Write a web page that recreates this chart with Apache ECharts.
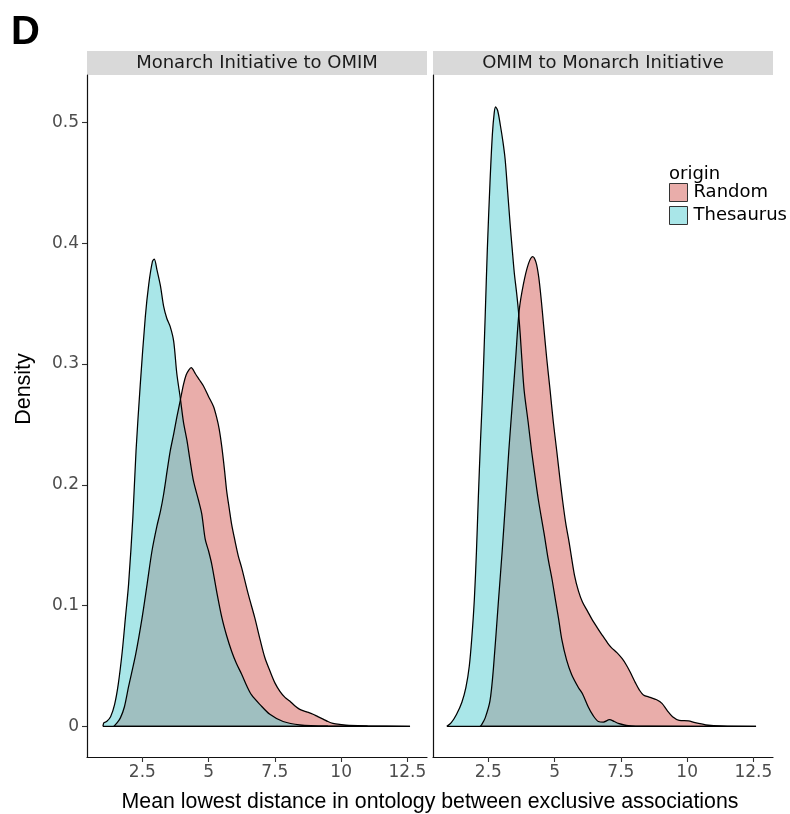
<!DOCTYPE html>
<html>
<head>
<meta charset="utf-8">
<script src="https://cdn.jsdelivr.net/npm/echarts@6/dist/echarts.min.js"></script>
<style>
html,body{margin:0;padding:0;background:#fff;}
#chart{width:790px;height:814px;}
</style>
</head>
<body>
<div id="chart"></div>
<script>
// ---- data ----
const panels = ['Monarch Initiative to OMIM', 'OMIM to Monarch Initiative'];
const groups = ['Random', 'Thesaurus'];
const xTicks = [2.5, 5, 7.5, 10, 12.5];
const yTicks = [0, 0.1, 0.2, 0.3, 0.4, 0.5];

const monarchRandom = [
  [1.42,0],[1.55,0.003],[1.67,0.007],[1.82,0.016],[1.98,0.033],[2.25,0.060],[2.49,0.090],
  [2.68,0.118],[2.86,0.145],[3.05,0.166],[3.18,0.178],[3.30,0.192],[3.45,0.214],[3.55,0.228],
  [3.68,0.242],[3.80,0.256],[3.93,0.270],[4.05,0.283],[4.15,0.291],[4.25,0.295],[4.34,0.297],
  [4.50,0.292],[4.65,0.287],[4.80,0.282],[5.00,0.273],[5.18,0.265],[5.30,0.256],[5.40,0.246],
  [5.50,0.231],[5.60,0.212],[5.68,0.195],[5.78,0.180],[5.87,0.167],[6.00,0.153],[6.12,0.141],
  [6.25,0.131],[6.50,0.109],[6.74,0.090],[6.94,0.072],[7.12,0.057],[7.31,0.046],[7.50,0.036],
  [7.69,0.029],[7.88,0.024],[8.06,0.021],[8.25,0.017],[8.44,0.014],[8.70,0.012],[8.94,0.010],
  [9.12,0.008],[9.32,0.006],[9.50,0.004],[9.69,0.0025],[10.0,0.0015],[10.3,0.0008],[11.0,0.0003],
  [12.6,0]
];
const monarchThesaurus = [
  [1.01,0],[1.05,0.003],[1.15,0.004],[1.30,0.008],[1.45,0.018],[1.59,0.035],[1.74,0.062],
  [1.86,0.090],[1.98,0.118],[2.14,0.173],[2.26,0.228],[2.42,0.283],[2.61,0.339],[2.74,0.366],
  [2.88,0.385],[2.95,0.387],[3.05,0.378],[3.18,0.365],[3.30,0.348],[3.42,0.338],[3.55,0.331],
  [3.68,0.319],[3.80,0.292],[3.93,0.272],[4.05,0.252],[4.18,0.237],[4.30,0.220],[4.43,0.203],
  [4.62,0.187],[4.74,0.176],[4.87,0.155],[5.00,0.145],[5.12,0.134],[5.30,0.112],[5.50,0.090],
  [5.68,0.075],[5.87,0.062],[6.05,0.052],[6.25,0.043],[6.45,0.033],[6.62,0.026],[6.94,0.018],
  [7.31,0.010],[7.81,0.004],[8.44,0.0012],[9.50,0.0003],[12.6,0]
];
const omimRandom = [
  [2.19,0],[2.25,0.0015],[2.38,0.007],[2.56,0.021],[2.69,0.048],[2.88,0.104],[3.02,0.145],
  [3.15,0.187],[3.27,0.228],[3.44,0.278],[3.53,0.305],[3.66,0.344],[3.82,0.366],[4.01,0.383],
  [4.17,0.389],[4.30,0.384],[4.40,0.372],[4.50,0.352],[4.58,0.333],[4.70,0.305],[4.83,0.278],
  [4.95,0.252],[5.08,0.228],[5.20,0.205],[5.30,0.187],[5.42,0.168],[5.55,0.152],[5.75,0.125],
  [5.90,0.112],[6.05,0.103],[6.25,0.095],[6.40,0.089],[6.60,0.082],[6.78,0.076],[7.00,0.069],
  [7.15,0.065],[7.35,0.061],[7.55,0.056],[7.70,0.051],[7.85,0.045],[8.05,0.036],[8.20,0.030],
  [8.35,0.026],[8.60,0.024],[8.85,0.022],[9.05,0.019],[9.25,0.013],[9.45,0.008],[9.70,0.005],
  [10.05,0.0045],[10.3,0.003],[10.7,0.0013],[11.3,0.0003],[12.6,0]
];
const omimThesaurus = [
  [0.93,0],[1.10,0.003],[1.30,0.010],[1.50,0.020],[1.65,0.032],[1.78,0.050],[1.88,0.075],
  [1.97,0.105],[2.05,0.145],[2.12,0.189],[2.20,0.235],[2.28,0.276],[2.38,0.340],[2.46,0.395],
  [2.56,0.450],[2.65,0.490],[2.72,0.508],[2.77,0.513],[2.85,0.510],[2.95,0.498],[3.05,0.484],
  [3.13,0.470],[3.22,0.445],[3.32,0.416],[3.40,0.395],[3.48,0.375],[3.56,0.360],[3.63,0.345],
  [3.70,0.325],[3.76,0.305],[3.85,0.278],[4.00,0.252],[4.13,0.228],[4.26,0.207],[4.39,0.187],
  [4.60,0.160],[4.76,0.138],[4.90,0.122],[5.02,0.106],[5.15,0.089],[5.27,0.072],[5.45,0.055],
  [5.64,0.043],[5.90,0.032],[6.05,0.027],[6.27,0.016],[6.45,0.009],[6.65,0.004],[6.84,0.0035],
  [7.07,0.0055],[7.25,0.004],[7.40,0.0025],[7.78,0.0006],[8.50,0.0001],[12.6,0]
];

// ---- styling ----
const fillColors = {Random: 'rgb(233,173,170)', Thesaurus: 'rgb(92,208,212)'};
const fillOpacity = {Random: 1, Thesaurus: 0.53};
const legendColors = {Random: 'rgb(233,173,170)', Thesaurus: 'rgb(169,230,232)'};
const tickFont = 'DejaVu Sans';

function closed(d) {
  // close the density outline along the baseline like ggplot's polygon
  const last = d[d.length - 1];
  return d.concat([[last[0], last[1]], [d[0][0], 0]]);
}

const panelData = [
  {Random: monarchRandom, Thesaurus: monarchThesaurus},
  {Random: omimRandom, Thesaurus: omimThesaurus}
];

const gridLeft = [87, 433];
const gridTop = 75, gridW = 340, gridH = 682;

const grids = gridLeft.map(l => ({left: l, top: gridTop, width: gridW, height: gridH}));
const xAxes = gridLeft.map((l, i) => ({
  type: 'value', gridIndex: i, min: 0.41, max: 13.24,
  axisLine: {show: true, onZero: false, lineStyle: {color: '#111', width: 1.2}},
  axisTick: {show: true, length: 5, customValues: xTicks, lineStyle: {color: '#333', width: 1.1}},
  axisLabel: {customValues: xTicks, color: '#4D4D4D', fontSize: 17, fontFamily: tickFont, margin: 7},
  splitLine: {show: false}
}));
const yAxes = gridLeft.map((l, i) => ({
  type: 'value', gridIndex: i, min: -0.0254, max: 0.5394,
  axisLine: {show: true, onZero: false, lineStyle: {color: '#111', width: 1.2}},
  axisTick: {show: i === 0, length: 5, customValues: yTicks, lineStyle: {color: '#333', width: 1.1}},
  axisLabel: {show: i === 0, customValues: yTicks, color: '#4D4D4D', fontSize: 17, fontFamily: tickFont, margin: 8},
  splitLine: {show: false}
}));

const series = [];
panelData.forEach((pd, i) => {
  groups.forEach(g => {
    series.push({
      name: g, type: 'line', xAxisIndex: i, yAxisIndex: i,
      data: closed(pd[g]),
      showSymbol: false, symbol: 'none', smooth: 0.3,
      lineStyle: {color: '#000', width: 1.25},
      itemStyle: {color: legendColors[g]},
      areaStyle: {color: fillColors[g], opacity: fillOpacity[g]},
      emphasis: {disabled: true}, silent: true
    });
  });
});

const graphics = [];
panels.forEach((p, i) => {
  graphics.push({type: 'rect', shape: {x: gridLeft[i], y: 51, width: gridW, height: 24}, style: {fill: '#D9D9D9'}, silent: true});
  graphics.push({type: 'text', x: gridLeft[i] + gridW / 2, y: 63, style: {text: p, fill: '#1A1A1A', font: '18px "DejaVu Sans"', align: 'center', verticalAlign: 'middle'}, silent: true});
});
graphics.push({type: 'text', x: 11, y: 33, style: {text: 'D', fill: '#000', font: 'bold 40px "Liberation Sans", Arial', align: 'left', verticalAlign: 'middle'}});
graphics.push({type: 'text', x: 24, y: 389, rotation: Math.PI / 2, style: {text: 'Density', fill: '#000', font: '21.5px "Liberation Sans", Arial', align: 'center', verticalAlign: 'middle'}});
graphics.push({type: 'text', x: 430, y: 802, style: {text: 'Mean lowest distance in ontology between exclusive associations', fill: '#000', font: '21.3px "Liberation Sans", Arial', align: 'center', verticalAlign: 'middle'}});
graphics.push({type: 'text', x: 669, y: 174, style: {text: 'origin', fill: '#000', font: '18px "DejaVu Sans"', align: 'left', verticalAlign: 'middle'}});

const chart = echarts.init(document.getElementById('chart'), null, {renderer: 'canvas'});
chart.setOption({
  animation: false,
  backgroundColor: '#fff',
  grid: grids,
  xAxis: xAxes,
  yAxis: yAxes,
  legend: {
    orient: 'vertical', left: 669, top: 183, padding: 0,
    itemWidth: 18, itemHeight: 18, itemGap: 4, icon: 'rect', selectedMode: false,
    textStyle: {fontSize: 18, fontFamily: 'DejaVu Sans', color: '#000', padding: [0, 0, 0, 1]},
    data: groups.map(g => ({name: g, itemStyle: {color: legendColors[g], borderColor: '#333', borderWidth: 1}}))
  },
  series: series,
  graphic: graphics
});
</script>
</body>
</html>
